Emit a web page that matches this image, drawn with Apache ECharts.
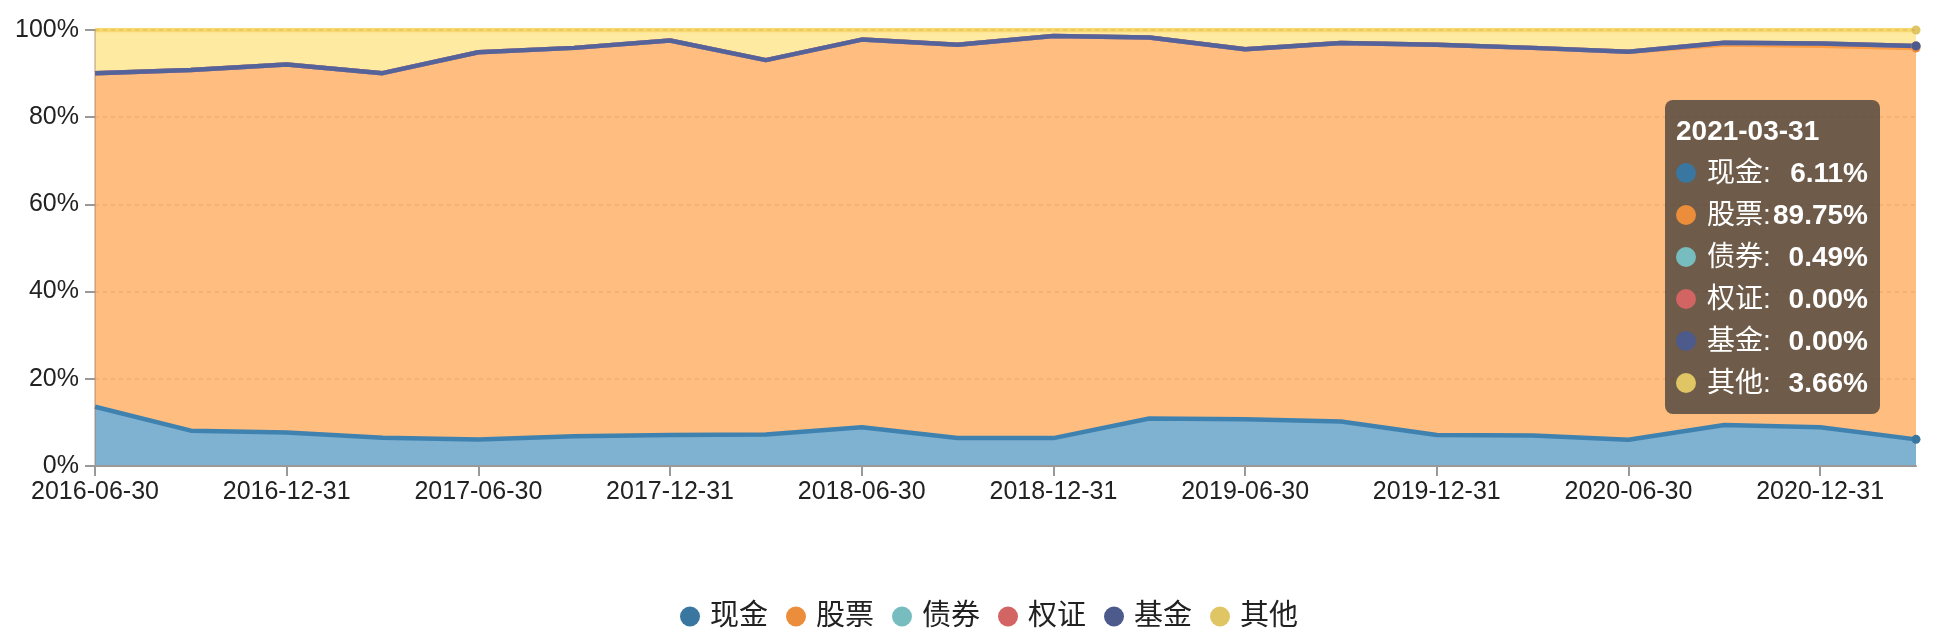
<!DOCTYPE html>
<html>
<head>
<meta charset="utf-8">
<script src="https://cdn.jsdelivr.net/npm/echarts@6/dist/echarts.min.js"></script>
<style>
  html, body { margin: 0; padding: 0; background: #fff; }
  #chart { width: 1948px; height: 640px; }
</style>
</head>
<body>
<div id="chart"></div>
<script>
const categories = [
  '2016-06-30','2016-09-30','2016-12-31','2017-03-31','2017-06-30','2017-09-30','2017-12-31',
  '2018-03-31','2018-06-30','2018-09-30','2018-12-31','2019-03-31','2019-06-30','2019-09-30',
  '2019-12-31','2020-03-31','2020-06-30','2020-09-30','2020-12-31','2021-03-31'
];
const seriesNames = ['现金','股票','债券','权证','基金','其他'];
const cash    = [13.6, 8.1, 7.7, 6.5, 6.1, 6.8, 7.1, 7.2, 8.9, 6.4, 6.4, 10.9, 10.7, 10.2, 7.1, 7.0, 6.0, 9.4, 8.9, 6.11];
const stock   = [76.5, 82.7, 84.4, 83.6, 88.8, 89.1, 90.5, 85.9, 88.9, 90.2, 92.2, 87.4, 84.9, 86.8, 89.5, 88.9, 89.0, 87.3, 87.5, 89.75];
const bond    = [0, 0, 0, 0, 0, 0, 0, 0, 0, 0, 0, 0, 0, 0, 0, 0, 0, 0.4, 0.5, 0.49];
const warrant = [0, 0, 0, 0, 0, 0, 0, 0, 0, 0, 0, 0, 0, 0, 0, 0, 0, 0, 0, 0.00];
const fund    = [0, 0, 0, 0, 0, 0, 0, 0, 0, 0, 0, 0, 0, 0, 0, 0, 0, 0, 0, 0.00];
const other   = [9.9, 9.2, 7.9, 9.9, 5.1, 4.1, 2.4, 6.9, 2.2, 3.4, 1.4, 1.7, 4.4, 3.0, 3.4, 4.1, 5.0, 2.9, 3.1, 3.66];
const yTicks = [0, 20, 40, 60, 80, 100];

const colors = ['#3a77a0', '#eb8d3b', '#77bdbf', '#d26463', '#4d5a8c', '#e0c565'];
const areaColors = ['#74a1be', '#eeac74', '#a0d1d2', '#e09392', '#828bae', '#e8d594'];
const allData = [cash, stock, bond, warrant, fund, other];

const chart = echarts.init(document.getElementById('chart'));
const FONT = '"Liberation Sans", "Noto Sans CJK SC", sans-serif';

const option = {
  animation: false,
  color: colors,
  textStyle: { fontFamily: FONT },
  grid: { left: 95, right: 32, top: 30, bottom: 174 },
  legend: {
    data: seriesNames,
    icon: 'circle',
    itemWidth: 30,
    itemHeight: 20,
    itemGap: 18,
    top: 597,
    left: 675,
    textStyle: { fontSize: 29, color: '#222', fontFamily: FONT }
  },
  tooltip: {
    trigger: 'axis',
    triggerOn: 'none',
    alwaysShowContent: true,
    position: [1665, 100],
    backgroundColor: 'rgba(50,50,50,0.7)',
    borderWidth: 0,
    padding: [10, 12, 10, 11],
    extraCssText: 'border-radius:8px;box-shadow:none;',
    axisPointer: { type: 'line', lineStyle: { color: 'rgba(0,0,0,0)', width: 0 } },
    formatter: function (params) {
      let html = '<div style="font-family:' + FONT.replace(/"/g, "'") + ';color:#fff;font-size:28px;line-height:42px;width:192px;">';
      html += '<div style="font-weight:bold;">' + params[0].axisValue + '</div>';
      params.forEach(function (p) {
        html += '<div style="display:flex;align-items:center;">' +
          '<span style="display:inline-block;width:20px;height:20px;border-radius:10px;background:' + p.color + ';margin-right:11px;"></span>' +
          '<span>' + p.seriesName + ':</span>' +
          '<span style="margin-left:auto;font-weight:bold;">' + Number(p.value).toFixed(2) + '%</span>' +
          '</div>';
      });
      html += '</div>';
      return html;
    }
  },
  xAxis: {
    type: 'category',
    boundaryGap: false,
    data: categories,
    z: 4,
    axisLine: { lineStyle: { color: '#999', width: 2 } },
    axisTick: { interval: 1, length: 10, lineStyle: { color: '#999', width: 2 } },
    axisLabel: { interval: 1, margin: 14, fontSize: 25, color: '#222', fontFamily: FONT }
  },
  yAxis: {
    type: 'value',
    min: yTicks[0],
    max: yTicks[yTicks.length - 1],
    interval: 20,
    z: 3,
    axisLine: { show: true, lineStyle: { color: 'rgba(150,110,80,0.35)', width: 2 } },
    axisTick: { show: true, length: 10, lineStyle: { color: '#999', width: 2 } },
    axisLabel: { formatter: '{value}%', margin: 16, fontSize: 25, color: '#222', fontFamily: FONT },
    splitLine: { lineStyle: { color: 'rgba(120,60,0,0.09)', width: 2, type: [4, 4] } }
  },
  series: seriesNames.map(function (name, i) {
    return {
      name: name,
      type: 'line',
      stack: 'total',
      data: allData[i],
      showSymbol: false,
      symbol: 'circle',
      symbolSize: 9,
      z: 2,
      lineStyle: { width: 4.5 },
      areaStyle: { color: areaColors[i], opacity: 1 },
      emphasis: { scale: false, focus: 'none', lineStyle: { width: 4.5 } }
    };
  })
};

chart.setOption(option);
chart.dispatchAction({ type: 'showTip', seriesIndex: 0, dataIndex: categories.length - 1 });
</script>
</body>
</html>
